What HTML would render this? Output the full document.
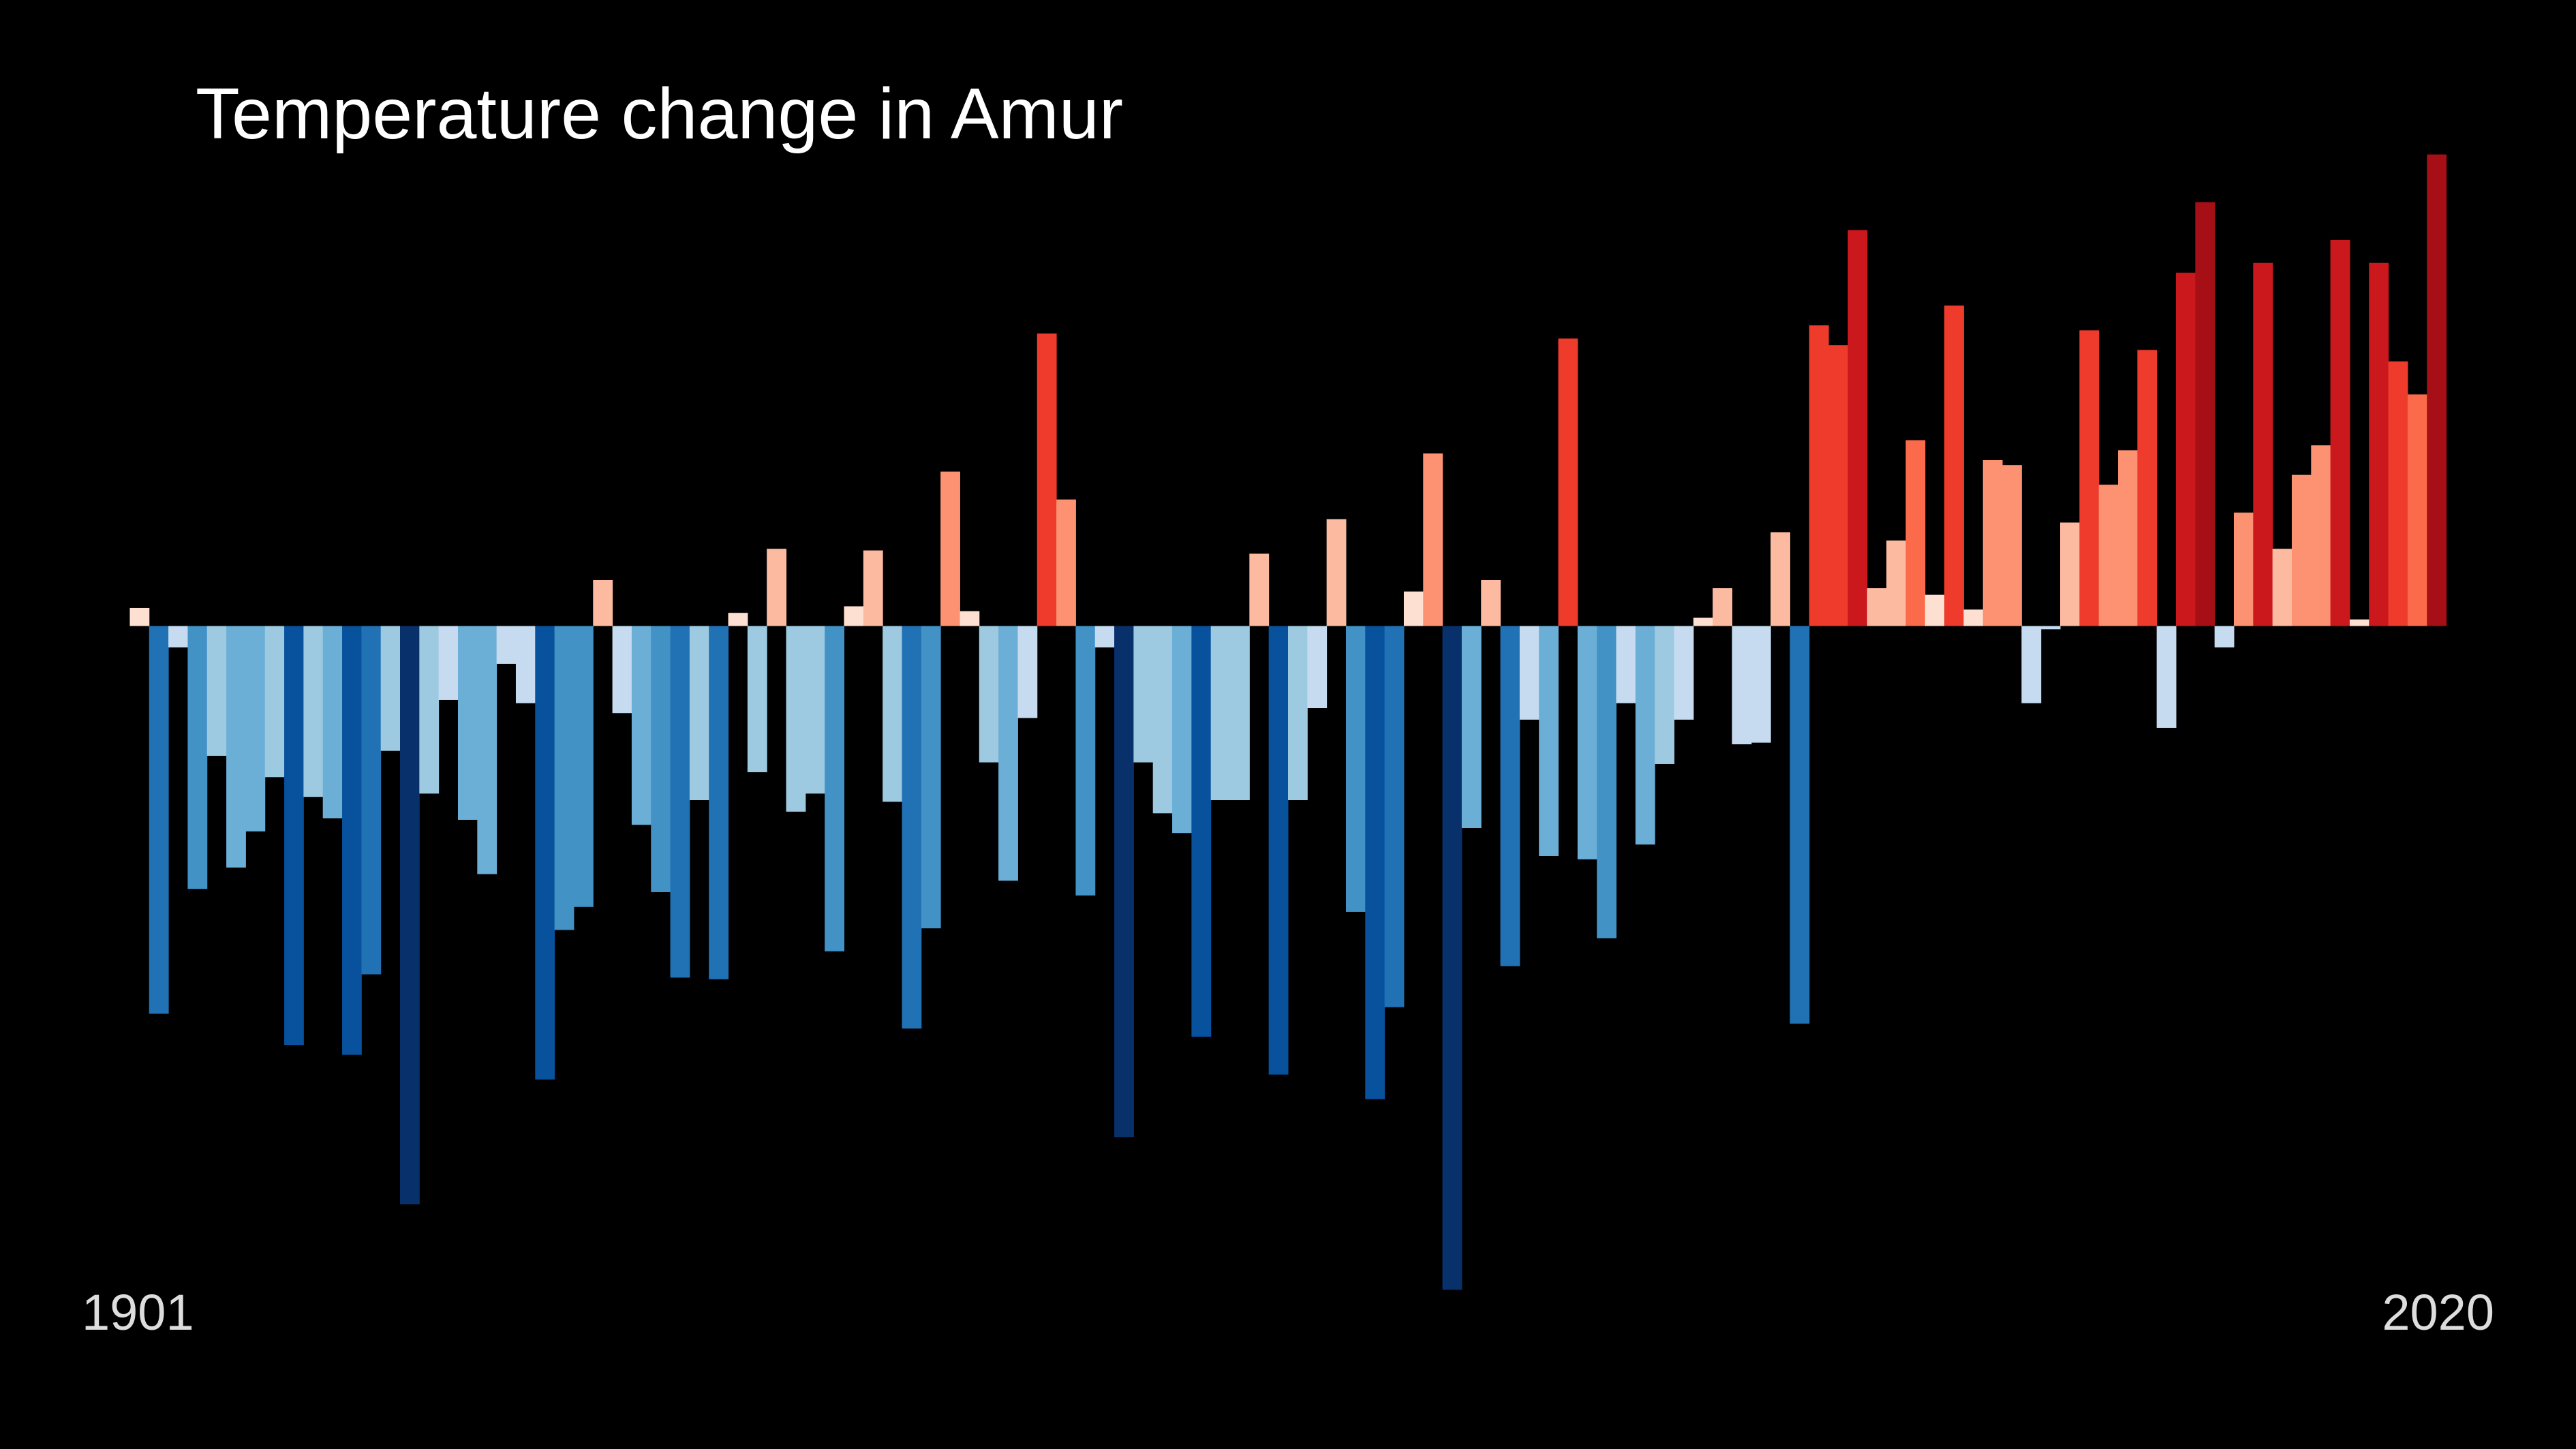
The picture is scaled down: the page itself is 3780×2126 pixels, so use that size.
<!DOCTYPE html>
<html><head><meta charset="utf-8"><style>
html,body{margin:0;padding:0;background:#000;}
svg{display:block;}
text{font-family:"Liberation Sans",Arial,sans-serif;}
</style></head><body>
<svg id="chart" width="3780" height="2126" viewBox="0 0 3780 2126" xmlns="http://www.w3.org/2000/svg">
<rect x="0" y="0" width="3780" height="2126" fill="#000"/>
<text x="287" y="203" font-size="106" fill="#ffffff">Temperature change in Amur</text>
<g id="bars"></g>
<text x="120" y="1951" font-size="74" fill="#dddddd">1901</text>
<text x="3660" y="1951" font-size="74" fill="#dddddd" text-anchor="end">2020</text>
</svg>
<script>
const startYear = 1901;
const anomalies = [11,-236,-13,-160,-79,-147,-125,-92,-255,-104,-117,-261,-212,-76,-352,-102,-45,-118,-151,-23,-47,-276,-185,-171,28,-53,-121,-162,-214,-106,-215,8,-89,47,-113,-102,-198,12,46,-107,-245,-184,94,9,-83,-155,-56,178,77,-164,-13,-311,-83,-114,-126,-250,-106,-106,44,-273,-106,-50,65,-174,-288,-232,21,105,-404,-123,28,-207,-57,-140,175,-142,-190,-47,-133,-84,-57,5,23,-72,-71,57,-242,183,171,241,23,52,113,19,195,10,101,98,-47,-2,63,180,86,107,168,-62,215,258,-13,69,221,47,92,110,235,4,221,161,141,287];
const blues = ["#deebf7","#c6dbef","#9ecae1","#6baed6","#4292c6","#2171b5","#08519c","#08306b"];
const reds = ["#fee0d2","#fcbba1","#fc9272","#fb6a4a","#ef3b2c","#cb181d","#a50f15"];

const S = 3780/1568;
const x0 = 79*S, x1 = 1489*S, baseY = 381*S;
const bw = (x1 - x0)/anomalies.length;
function xScale(i){ return x0 + i*bw; }
function yScale(v){ return baseY - v*S; }
function color(v){
  if (v >= 0) return reds[Math.min(reds.length-1, Math.round(v/45))];
  return blues[Math.min(blues.length-1, Math.max(1, Math.floor((-v+12)/43)))];
}
const g = document.getElementById('bars');
anomalies.forEach((v,i)=>{
  const r = document.createElementNS('http://www.w3.org/2000/svg','rect');
  const y = yScale(v);
  r.setAttribute('x', xScale(i));
  r.setAttribute('width', bw + 0.5);
  r.setAttribute('y', Math.min(y, baseY));
  r.setAttribute('height', Math.max(Math.abs(y - baseY), 1));
  r.setAttribute('fill', color(v));
  
  
  g.appendChild(r);
});
</script>
</body></html>
